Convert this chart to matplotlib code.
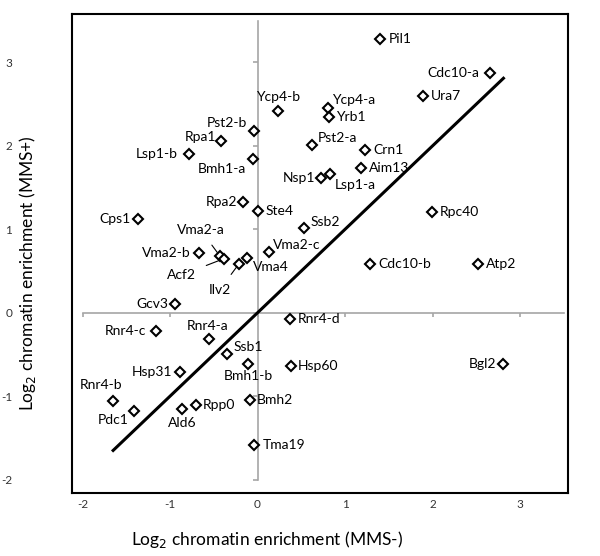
import numpy as np
import matplotlib
matplotlib.use("Agg")
import matplotlib.pyplot as plt

plt.rcParams["font.family"] = ["Lato", "DejaVu Sans"]
plt.rcParams["axes.unicode_minus"] = False

# ============================================================
# Data (log2 chromatin enrichment, MMS- vs MMS+)
# ============================================================

genes = [
    "Pil1", "Cdc10-a", "Ura7", "Ycp4-b", "Ycp4-a", "Yrb1", "Pst2-b", "Rpa1",
    "Pst2-a", "Crn1", "Lsp1-b", "Bmh1-a", "Aim13", "Nsp1", "Lsp1-a", "Rpa2",
    "Ste4", "Rpc40", "Cps1", "Ssb2", "Vma2-b", "Vma2-c", "Vma2-a", "Acf2",
    "Ilv2", "Vma4", "Cdc10-b", "Atp2", "Gcv3", "Rnr4-d", "Rnr4-c", "Rnr4-a",
    "Ssb1", "Bmh1-b", "Hsp60", "Bgl2", "Hsp31", "Rnr4-b", "Bmh2", "Rpp0",
    "Ald6", "Pdc1", "Tma19",
]
mms_minus = [
    1.40, 2.66, 1.89, 0.23, 0.80, 0.82, -0.04, -0.42,
    0.62, 1.23, -0.78, -0.05, 1.18, 0.72, 0.83, -0.17,
    0.00, 1.99, -1.37, 0.53, -0.67, 0.13, -0.43, -0.38,
    -0.21, -0.12, 1.28, 2.52, -0.94, 0.37, -1.16, -0.56,
    -0.35, -0.11, 0.38, 2.81, -0.89, -1.65, -0.09, -0.70,
    -0.86, -1.41, -0.04,
]
mms_plus = [
    3.28, 2.87, 2.60, 2.42, 2.45, 2.35, 2.18, 2.06,
    2.01, 1.95, 1.90, 1.84, 1.73, 1.62, 1.66, 1.33,
    1.22, 1.21, 1.12, 1.02, 0.72, 0.73, 0.68, 0.65,
    0.59, 0.66, 0.59, 0.59, 0.10, -0.08, -0.22, -0.31,
    -0.49, -0.61, -0.64, -0.62, -0.71, -1.06, -1.05, -1.10,
    -1.15, -1.18, -1.58,
]

ticks = [-2, -1, 0, 1, 2, 3]

# label placement: (dx, dy) in points, horizontal alignment
label_style = {
    "Pil1": (6, 0, "left"), "Cdc10-a": (-8, 0, "right"), "Ura7": (6, 0, "left"),
    "Ycp4-b": (0, 10, "center"), "Ycp4-a": (3, 6, "left"), "Yrb1": (5, 0, "left"),
    "Pst2-b": (-5, 6, "right"), "Rpa1": (-3, 3, "right"), "Pst2-a": (4, 5, "left"),
    "Crn1": (6, 0, "left"), "Lsp1-b": (-8, 0, "right"), "Bmh1-a": (-5, -7, "right"),
    "Aim13": (6, 0, "left"), "Nsp1": (-4, 0, "right"), "Lsp1-a": (3, -8, "left"),
    "Rpa2": (-4, 0, "right"), "Ste4": (6, 0, "left"), "Rpc40": (6, 0, "left"),
    "Cps1": (-5, 0, "right"), "Ssb2": (5, 4, "left"), "Vma2-b": (-6, 0, "right"),
    "Vma2-c": (3, 5, "left"), "Vma2-a": (-14, 19, "center"), "Acf2": (-31, -12, "center"),
    "Ilv2": (-14, -19, "center"), "Vma4": (4, -7, "left"), "Cdc10-b": (6, 0, "left"),
    "Atp2": (6, 0, "left"), "Gcv3": (-5, 0, "right"), "Rnr4-d": (6, 0, "left"),
    "Rnr4-c": (-7, 0, "right"), "Rnr4-a": (-1, 9, "center"), "Ssb1": (5, 5, "left"),
    "Bmh1-b": (0, -9, "center"), "Hsp60": (5, 0, "left"), "Bgl2": (-5, 0, "right"),
    "Hsp31": (-5, 0, "right"), "Rnr4-b": (-9, 12, "center"), "Bmh2": (5, 0, "left"),
    "Rpp0": (5, 0, "left"), "Ald6": (0, -10, "center"), "Pdc1": (-4, -6, "right"),
    "Tma19": (6, 0, "left"),
}
leaders = ["Vma2-a", "Acf2", "Ilv2"]

# ============================================================
# Plot
# ============================================================

fig = plt.figure(figsize=(6.0, 5.56), dpi=100)
ax = fig.add_axes([0.12, 0.1133, 0.827, 0.8615])
ax.set_xlim(-2.12, 3.55)
ax.set_ylim(-2.16, 3.58)

# axes crossing at the origin (Excel style)
ax.plot([-2, 3.5], [0, 0], color="#a6a6a6", lw=1.2, zorder=1)
ax.plot([0, 0], [-2, 3.5], color="#a6a6a6", lw=1.2, zorder=1)
ax.vlines(ticks, -0.05, 0, color="#a6a6a6", lw=1.2, zorder=1)
ax.hlines(ticks, -0.05, 0, color="#a6a6a6", lw=1.2, zorder=1)

# y = x reference line across the data range
line_x = np.array([min(mms_minus), max(mms_minus)])
ax.plot(line_x, line_x, color="black", lw=2.2, zorder=2)

ax.plot(mms_minus, mms_plus, linestyle="none", marker="D", markersize=5.2,
        markerfacecolor="white", markeredgecolor="black", markeredgewidth=1.5,
        zorder=3)

for name, x, y in zip(genes, mms_minus, mms_plus):
    dx, dy, ha = label_style[name]
    if name in leaders:
        ax.annotate(name, (x, y), xytext=(dx, dy), textcoords="offset points",
                    ha=ha, va="center", fontsize=10,
                    arrowprops=dict(arrowstyle="-", color="black", lw=0.8,
                                    shrinkA=6, shrinkB=3))
    else:
        ax.annotate(name, (x, y), xytext=(dx, dy), textcoords="offset points",
                    ha=ha, va="center", fontsize=10)

ax.set_xticks(ticks)
ax.set_yticks(ticks)
ax.set_xticklabels([str(t) for t in ticks], fontsize=8.5, color="#333333")
ax.set_yticklabels([str(t) for t in ticks], fontsize=8.5, color="#333333")
ax.tick_params(axis="x", length=0, pad=4)
ax.tick_params(axis="y", length=0, pad=43)

for s in ax.spines.values():
    s.set_linewidth(1.5)
    s.set_color("black")

ax.set_xlabel("Log$_2$ chromatin enrichment (MMS-)", fontsize=12.5)
ax.set_ylabel("Log$_2$ chromatin enrichment (MMS+)", fontsize=12.5)
ax.xaxis.set_label_coords(0.393, -0.075)
ax.yaxis.set_label_coords(-0.068, 0.46)

plt.savefig("out.png", dpi=100)
plt.close()
